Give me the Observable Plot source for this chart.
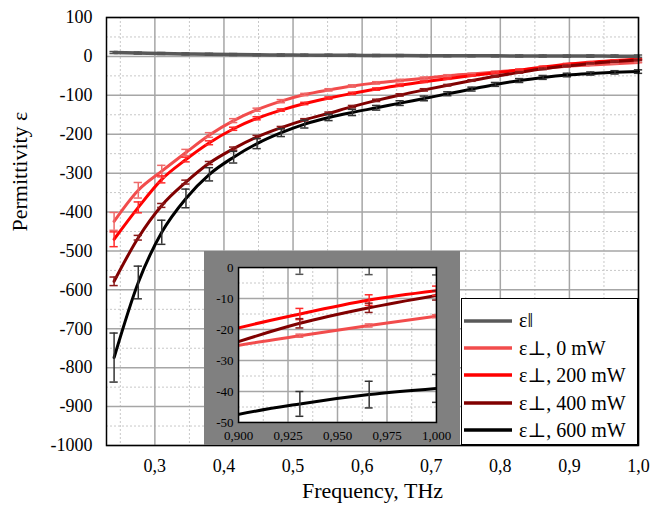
<!DOCTYPE html>
<html>
<head>
<meta charset="utf-8">
<script src="https://cdn.jsdelivr.net/npm/d3@7"></script>
<script src="https://cdn.jsdelivr.net/npm/@observablehq/plot@0.6"></script>
<style>
  html, body { margin: 0; padding: 0; background: white; }
  #wrap { position: relative; width: 651px; height: 514px; font-family: "Liberation Serif", "Times New Roman", Times, Tinos, "DejaVu Serif", "Noto Serif", FreeSerif, serif; }
  #inset { position: absolute; left: 204px; top: 251px; width: 256px; height: 194px; background: #808080; }
  #legend { position: absolute; left: 461px; top: 298px; width: 177px; height: 147px; box-sizing: border-box;
            border: 1.5px solid #000; background: #fff; padding-top: 8px; }
  .row { display: flex; align-items: center; height: 27.4px; font-size: 20px; color: #000; }
  .row svg { margin-left: 2px; margin-right: 7px; }
  svg text { font-family: "Liberation Serif", "Times New Roman", Times, Tinos, "DejaVu Serif", "Noto Serif", FreeSerif, serif; }
</style>
</head>
<body>
<div id="wrap">
  <div id="main"></div>
  <div id="inset"></div>
  <div id="legend"></div>
</div>
<script>
// ---- data ----
const freq = [0.241, 0.276, 0.310, 0.345, 0.379, 0.414, 0.448, 0.483, 0.517, 0.552, 0.586, 0.621,
              0.655, 0.690, 0.724, 0.759, 0.793, 0.828, 0.862, 0.897, 0.931, 0.966, 1.000];

const epsPar = [10, 8.5, 7.5, 6.5, 5.5, 4.8, 4.2, 3.7, 3.3, 3.0, 2.7, 2.4, 2.2, 2.0, 1.8, 1.6, 1.4, 1.2, 1.0, 0.9, 0.8, 0.7, 0.6];
const errPar = [2.5, 2.5, 2.5, 2.5, 2.5, 2.5, 2.5, 2.5, 2.5, 2.5, 2.5, 2.5, 2.5, 2.5, 2.5, 2.5, 2.5, 2.5, 2.5, 2.5, 3, 3, 3];

const eps0 = [-424, -344, -295, -247, -202, -165, -137, -115, -98, -86, -76, -68, -62, -56, -50, -45, -40, -35, -30.5, -25.5, -22, -18.7, -15.7];
const err0 = [23, 20, 15, 8, 6, 5, 4, 4, 3, 3, 3, 3, 3, 3, 3, 2, 2, 2, 2, 1, 0.5, 0.5, 0.5];

const eps200 = [-470, -388, -316, -265, -222, -186, -159, -138, -121, -107, -95, -84, -74, -65, -57, -49, -42, -35, -27, -20, -15, -10.5, -7.5];
const err200 = [19, 14, 9, 6, 5, 4, 4, 3, 3, 3, 3, 3, 3, 2, 2, 2, 2, 2, 2, 2, 1.8, 1.7, 1.5];

const eps400 = [-578, -466, -383, -323, -274, -237, -207, -183, -163, -146, -129, -113, -99, -86, -74, -62, -51, -41, -32, -24.5, -18, -13, -9];
const err400 = [11, 6, 5, 5, 4, 4, 4, 3, 3, 3, 3, 3, 3, 3, 2, 2, 2, 2, 2, 2, 1.5, 1.5, 1.5];

const eps600 = [-774, -581, -452, -365, -303, -259, -224, -196, -174, -157, -144, -132, -120, -108, -96, -84, -72, -62, -54, -47.8, -44, -41, -39];
const err600 = [63, 42, 31, 24, 17, 15, 13, 10, 10, 8, 8, 6, 6, 6, 5, 5, 5, 5, 5, 4.5, 4, 4.3, 4.5];

const seriesNames = ["ε‖", "ε⊥, 0 mW", "ε⊥, 200 mW", "ε⊥, 400 mW", "ε⊥, 600 mW"];
const lineColors = ["#595959", "#f24c4c", "#ff0000", "#800000", "#000000"];
const barColors  = ["#555555", "#ee6a6a", "#ff2a2a", "#8b1a1a", "#333333"];
const seriesVals = [epsPar, eps0, eps200, eps400, eps600];
const seriesErrs = [errPar, err0, err200, err400, err600];

const xTicks = [0.3, 0.4, 0.5, 0.6, 0.7, 0.8, 0.9, 1.0];
const xMinor = [0.25, 0.35, 0.45, 0.55, 0.65, 0.75, 0.85, 0.95];
const yTicks = [100, 0, -100, -200, -300, -400, -500, -600, -700, -800, -900, -1000];
const yMinor = [50, -50, -150, -250, -350, -450, -550, -650, -750, -850, -950];

const insetXTicks = [0.900, 0.925, 0.950, 0.975, 1.000];
const insetXMinor = [0.9125, 0.9375, 0.9625, 0.9875];
const insetYTicks = [0, -10, -20, -30, -40, -50];
const insetYMinor = [-5, -15, -25, -35, -45];

// ---- build tables ----
const tables = seriesNames.map((name, i) =>
  freq.map((f, j) => ({f, v: seriesVals[i][j], e: seriesErrs[i][j], s: name})));

function seriesMarks(capHalf, clip) {
  const marks = [];
  tables.forEach((t, i) => {
    marks.push(Plot.line(t, {x: "f", y: "v", stroke: lineColors[i], strokeWidth: i === 0 ? 3.5 : 3, curve: "monotone-x", clip}));
  });
  tables.forEach((t, i) => {
    const c = barColors[i];
    marks.push(Plot.ruleX(t, {x: "f", y1: d => d.v - d.e, y2: d => d.v + d.e, stroke: c, strokeWidth: 1.5, clip}));
    marks.push(Plot.ruleY(t, {y: d => d.v + d.e, x1: d => d.f - capHalf, x2: d => d.f + capHalf, stroke: c, strokeWidth: 1.5, clip}));
    marks.push(Plot.ruleY(t, {y: d => d.v - d.e, x1: d => d.f - capHalf, x2: d => d.f + capHalf, stroke: c, strokeWidth: 1.5, clip}));
  });
  return marks;
}

const fontFam = "Liberation Serif, Times New Roman, Times, Tinos, DejaVu Serif, Noto Serif, FreeSerif, serif";

const main = Plot.plot({
  width: 651, height: 514,
  marginLeft: 106, marginRight: 13, marginTop: 17, marginBottom: 69,
  style: {fontFamily: fontFam, fontSize: "18px", background: "white", color: "black", overflow: "visible"},
  x: {domain: [0.23, 1.0], ticks: xTicks, tickFormat: d => d.toFixed(1).replace(".", ","), tickSize: 0, tickPadding: 14, label: null},
  y: {domain: [-1000, 100], ticks: yTicks, tickFormat: d => String(d), tickSize: 0, tickPadding: 14, label: null},
  marks: [
    Plot.ruleX(xMinor, {stroke: "#c8c8c8", strokeDasharray: "2,2"}),
    Plot.ruleY(yMinor, {stroke: "#c8c8c8", strokeDasharray: "2,2"}),
    Plot.ruleX(xTicks, {stroke: "#a6a6a6", strokeWidth: 1.5}),
    Plot.ruleY(yTicks, {stroke: "#a6a6a6", strokeWidth: 1.5}),
    ...seriesMarks(0.006, false),
    Plot.frame({stroke: "black", strokeWidth: 1.5}),
    Plot.text(["Frequency, THz"], {text: d => d, frameAnchor: "bottom", dy: 52, fontSize: 22}),
    Plot.text(["Permittivity ε"], {text: d => d, frameAnchor: "left", dx: -87, rotate: -90, fontSize: 22})
  ]
});
document.getElementById("main").appendChild(main);

const inset = Plot.plot({
  width: 256, height: 194,
  marginLeft: 34, marginRight: 24, marginTop: 16, marginBottom: 23,
  style: {fontFamily: fontFam, fontSize: "13px", background: "transparent", color: "black", overflow: "visible"},
  x: {domain: [0.9, 1.0], ticks: insetXTicks, tickFormat: d => d.toFixed(3).replace(".", ","), tickSize: 0, tickPadding: 8, label: null},
  y: {domain: [-50, 0], ticks: insetYTicks, tickFormat: d => String(d), tickSize: 0, tickPadding: 5, label: null},
  marks: [
    Plot.frame({fill: "white"}),
    Plot.ruleX(insetXMinor, {stroke: "#c8c8c8", strokeDasharray: "2,2"}),
    Plot.ruleY(insetYMinor, {stroke: "#c8c8c8", strokeDasharray: "2,2"}),
    Plot.ruleX(insetXTicks, {stroke: "#a6a6a6", strokeWidth: 1.5}),
    Plot.ruleY(insetYTicks, {stroke: "#a6a6a6", strokeWidth: 1.5}),
    ...seriesMarks(0.002, true),
    Plot.frame({stroke: "black", strokeWidth: 1.5})
  ]
});
document.getElementById("inset").appendChild(inset);

// ---- legend ----
const legend = document.getElementById("legend");
seriesNames.forEach((name, i) => {
  const row = document.createElement("div");
  row.className = "row";
  row.innerHTML = `<svg width="48" height="6"><line x1="0" y1="3" x2="48" y2="3" stroke="${lineColors[i]}" stroke-width="3.5"/></svg><span>${name}</span>`;
  legend.appendChild(row);
});
</script>
</body>
</html>
